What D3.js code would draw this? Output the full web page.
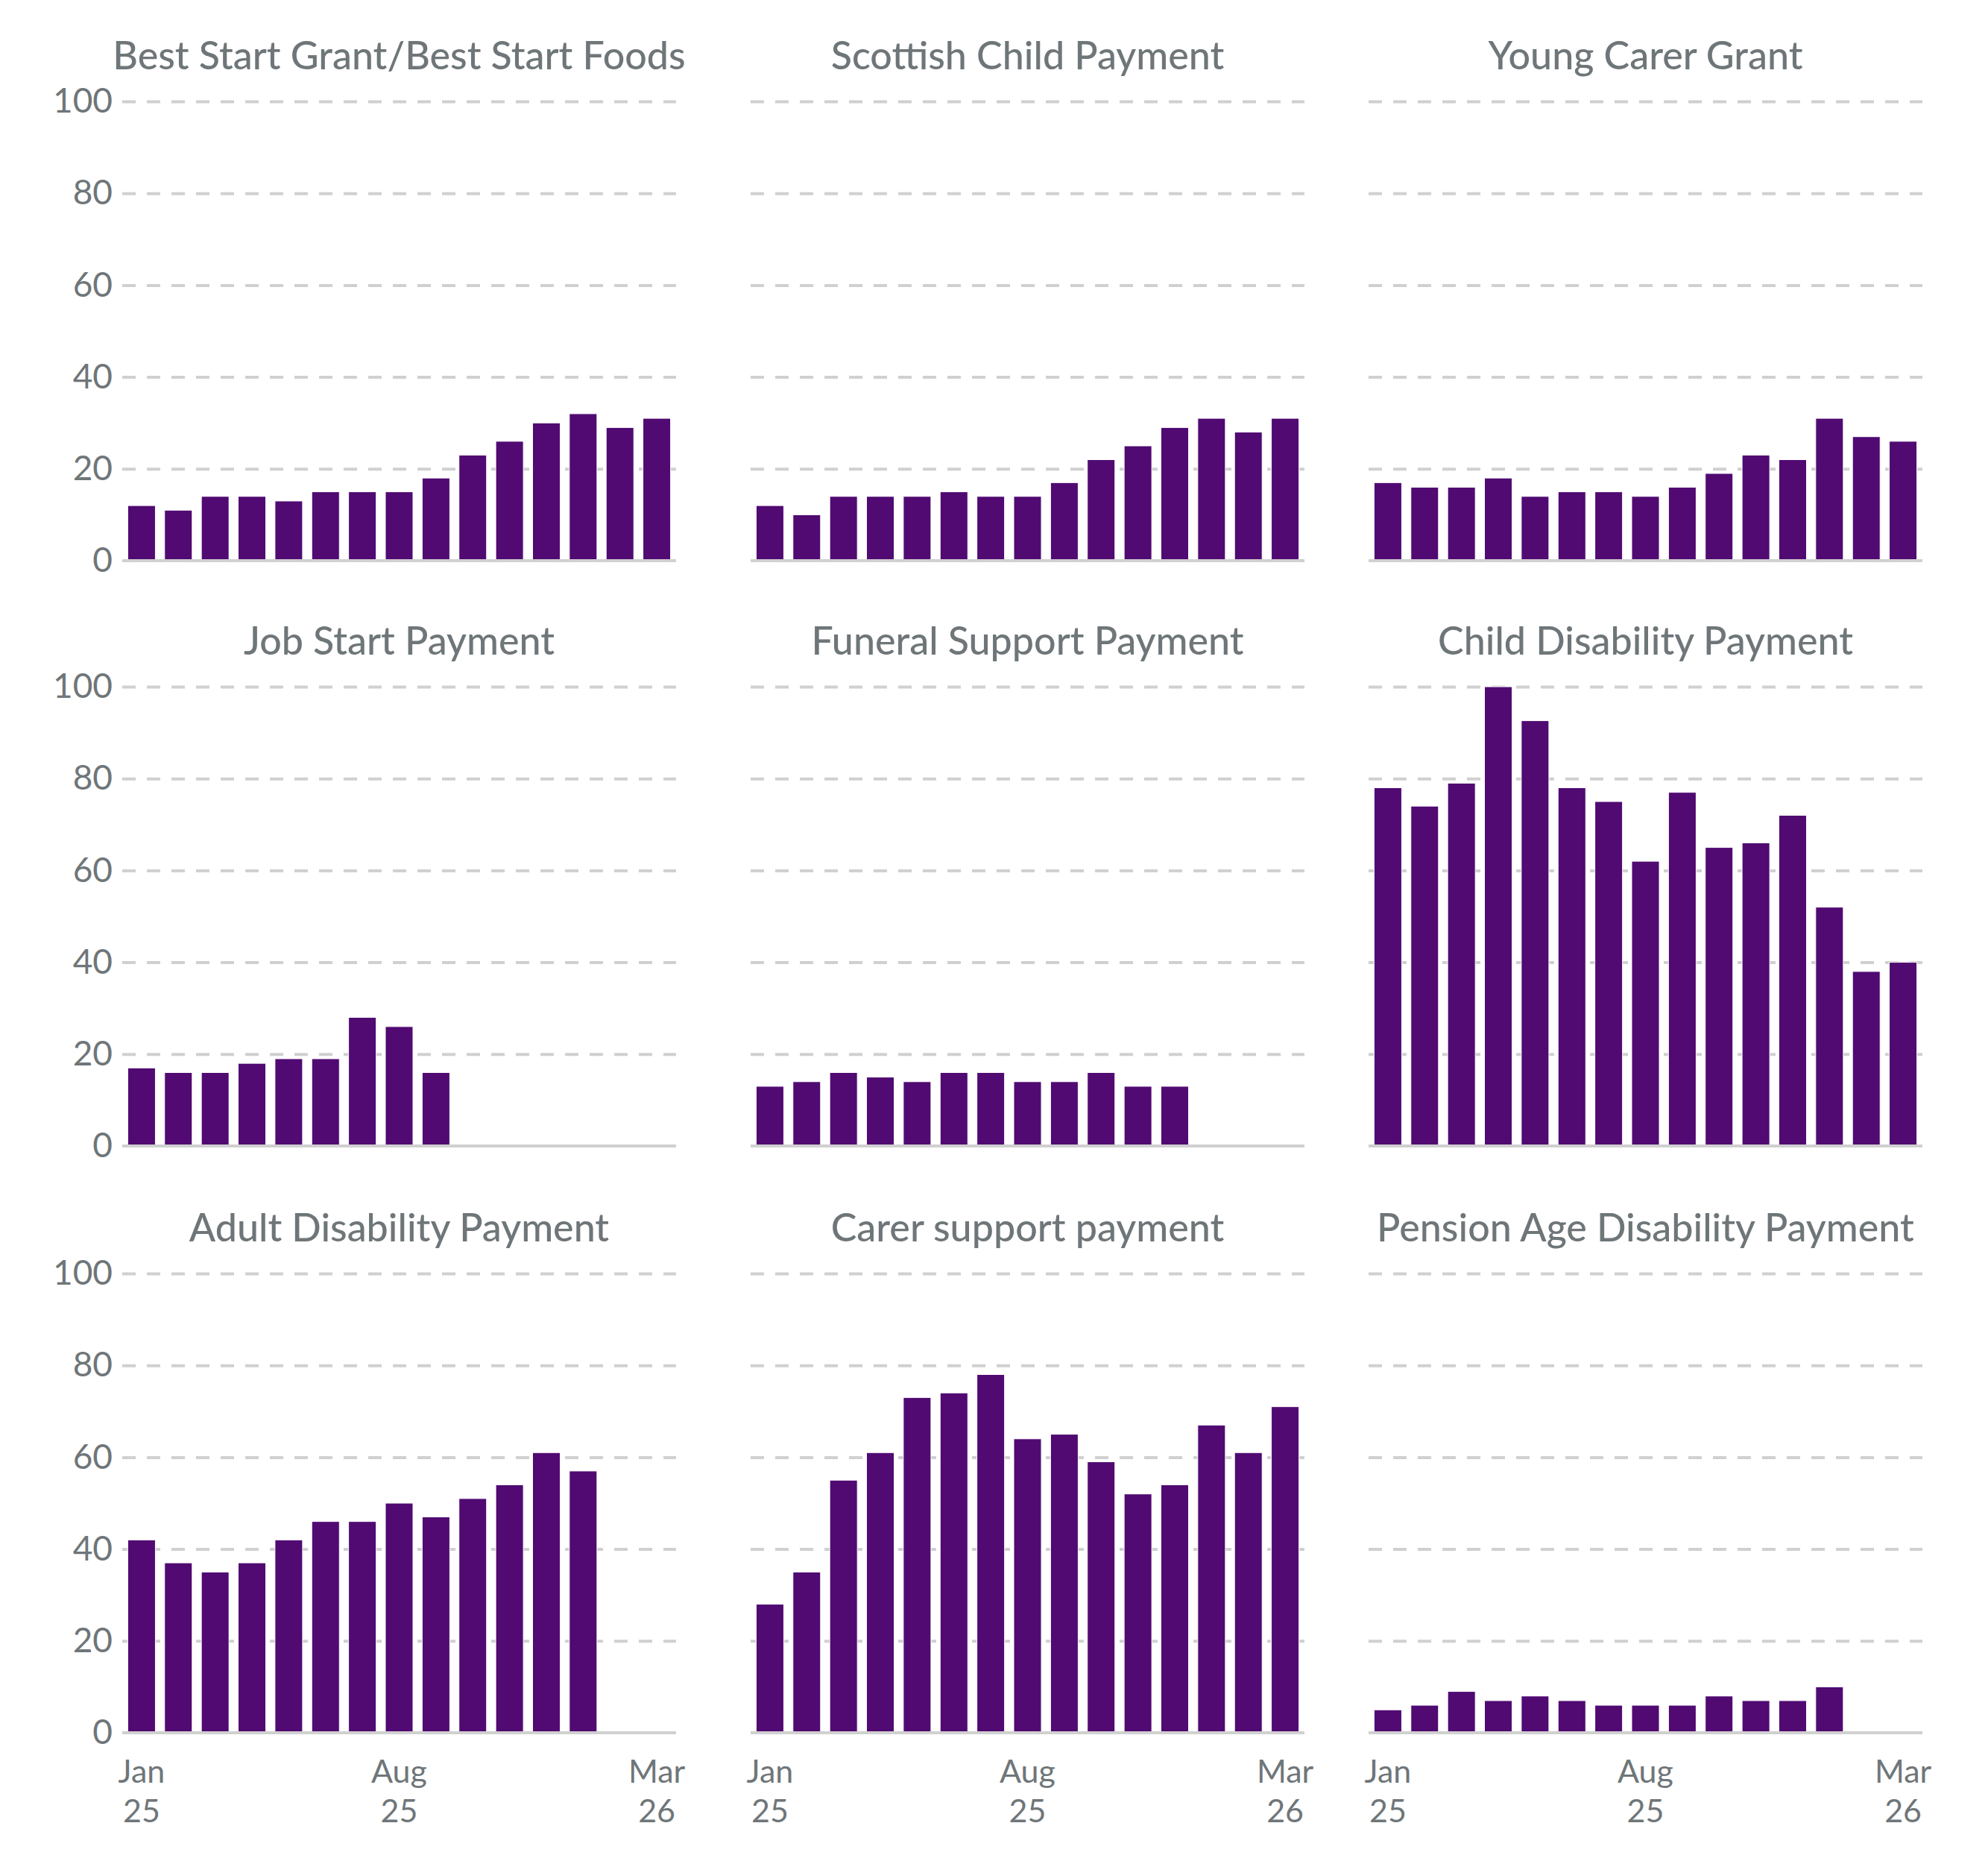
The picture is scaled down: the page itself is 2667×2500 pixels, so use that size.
<!DOCTYPE html>
<html>
<head>
<meta charset="utf-8">
<script src="https://cdn.jsdelivr.net/npm/d3@7"></script>
<style>
    body { margin: 0; background: #fff; }
    text { font-family: Lato, "Noto Sans", sans-serif; }
</style>
</head>
<body>
<div id="root"></div>
<script>
// months on the x axis, Jan 2025 to Mar 2026
var months = ["Jan 25", "Feb 25", "Mar 25", "Apr 25", "May 25", "Jun 25", "Jul 25", "Aug 25",
    "Sep 25", "Oct 25", "Nov 25", "Dec 25", "Jan 26", "Feb 26", "Mar 26"];
var xTickMonths = ["Jan 25", "Aug 25", "Mar 26"];
var yTicks = [0, 20, 40, 60, 80, 100];

var titles = ["Best Start Grant/Best Start Foods", "Scottish Child Payment", "Young Carer Grant",
    "Job Start Payment", "Funeral Support Payment", "Child Disability Payment",
    "Adult Disability Payment", "Carer support payment", "Pension Age Disability Payment"];

var bestStart = [12, 11, 14, 14, 13, 15, 15, 15, 18, 23, 26, 30, 32, 29, 31];
var scottishChild = [12, 10, 14, 14, 14, 15, 14, 14, 17, 22, 25, 29, 31, 28, 31];
var youngCarer = [17, 16, 16, 18, 14, 15, 15, 14, 16, 19, 23, 22, 31, 27, 26];
var jobStart = [17, 16, 16, 18, 19, 19, 28, 26, 16];
var funeralSupport = [13, 14, 16, 15, 14, 16, 16, 14, 14, 16, 13, 13];
var childDisability = [78, 74, 79, 100, 92.6, 78, 75, 62, 77, 65, 66, 72, 52, 38, 40];
var adultDisability = [42, 37, 35, 37, 42, 46, 46, 50, 47, 51, 54, 61, 57];
var carerSupport = [28, 35, 55, 61, 73, 74, 78, 64, 65, 59, 52, 54, 67, 61, 71];
var pensionAge = [5, 6, 9, 7, 8, 7, 6, 6, 6, 8, 7, 7, 10];

var series = [bestStart, scottishChild, youngCarer, jobStart, funeralSupport,
    childDisability, adultDisability, carerSupport, pensionAge];

var textColor = "#6f7679";
var barColor = "#500a72";
var gridColor = "#d0d0d0";

// panel layout
var colX = [164, 1007, 1836], panelW = 743;
var rowY = [136, 921, 1708], panelH = 616;

var svg = d3
    .select("#root")
    .append("svg")
    .attr("width", 2667)
    .attr("height", 2500)
    .style("background", "#fff");

var x = d3.scaleBand().domain(months).range([0, panelW]).paddingInner(0.25).paddingOuter(0.15);
var y = d3.scaleLinear().domain([0, 100]).range([panelH, 0]);

series.forEach((values, i) => {
    var col = i % 3, row = Math.floor(i / 3);
    var g = svg.append("g")
        .attr("transform", "translate(" + colX[col] + "," + rowY[row] + ")");

    // gridlines (and y labels on the first column)
    var yAxis = g.append("g")
        .call(d3.axisLeft(y)
            .tickValues(yTicks)
            .tickSize(-panelW)
            .tickPadding(13)
            .tickFormat((d) => (col === 0 ? d : "")));
    yAxis.select(".domain").remove();
    yAxis.selectAll("line")
        .attr("stroke", gridColor)
        .attr("stroke-width", 4)
        .attr("stroke-dasharray", "18,15")
        .filter((d) => d === 0).remove();
    yAxis.selectAll("text")
        .style("font-size", "46px")
        .attr("fill", textColor);

    g.append("g")
        .selectAll("rect")
        .data(values.map((v, j) => ({ month: months[j], value: v })))
        .enter()
        .append("rect")
        .attr("x", (d) => x(d.month))
        .attr("y", (d) => y(d.value))
        .attr("width", x.bandwidth())
        .attr("height", (d) => y(0) - y(d.value))
        .attr("fill", barColor)
        .attr("stroke", "#fff")
        .attr("stroke-width", 1);

    // baseline
    g.append("line")
        .attr("x1", 0)
        .attr("x2", panelW)
        .attr("y1", y(0))
        .attr("y2", y(0))
        .attr("stroke", gridColor)
        .attr("stroke-width", 4);

    g.append("text")
        .attr("x", panelW / 2)
        .attr("y", -43)
        .attr("text-anchor", "middle")
        .style("font-size", "52px")
        .style("font-weight", 500)
        .attr("fill", textColor)
        .text(titles[i]);

    if (row === 2) {
        var xAxis = g.append("g")
            .attr("transform", "translate(0," + panelH + ")")
            .call(d3.axisBottom(x).tickValues(xTickMonths).tickSize(0)
                .tickFormat((d) => d.split(" ")[0]));
        xAxis.select(".domain").remove();
        xAxis.selectAll("text")
            .attr("dy", null)
            .attr("y", 67)
            .style("font-size", "43px")
            .attr("fill", textColor);
        // year on a second line
        xAxis.selectAll(".tick")
            .append("text")
            .attr("y", 120)
            .attr("fill", textColor)
            .style("font-size", "43px")
            .text((d) => d.split(" ")[1]);
    }
});
</script>
</body>
</html>
